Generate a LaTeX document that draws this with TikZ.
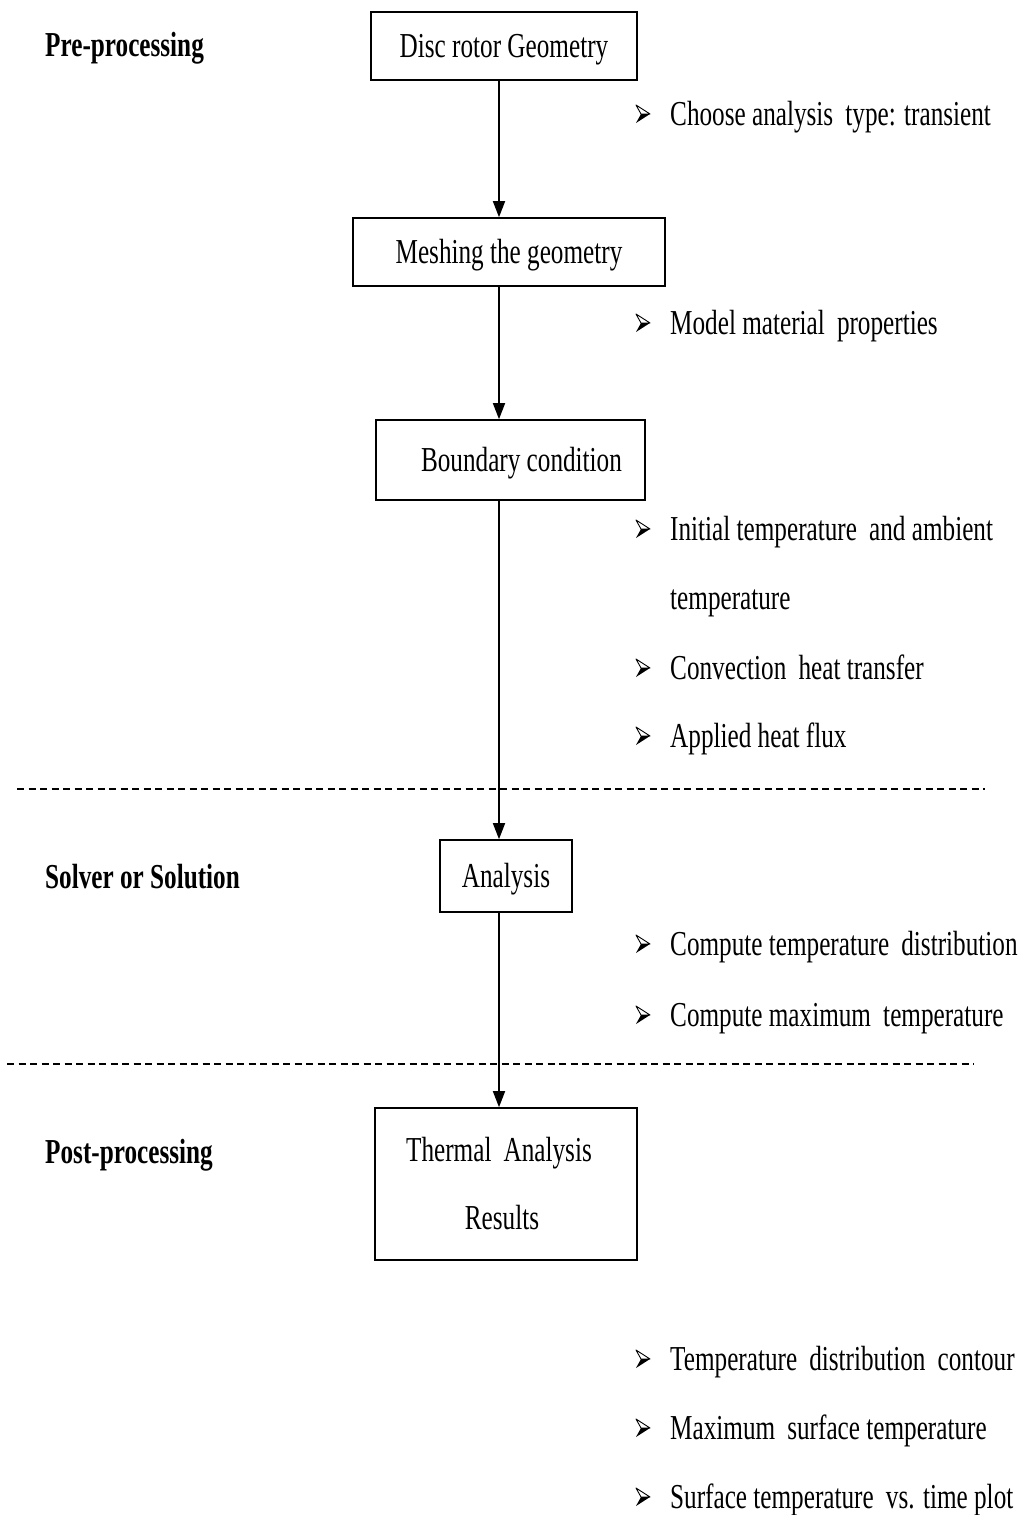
\documentclass[tikz,border=0pt]{standalone}
\usepackage{fontspec}
\setmainfont{Liberation Serif}[FakeStretch=0.72]
\usetikzlibrary{arrows.meta}
\begin{document}
\begin{tikzpicture}[x=1pt,y=-1pt,
  frame/.style={draw, line width=1.6pt, inner sep=0pt},
  box/.style={frame, font=\fontsize{35}{42}\selectfont, text height=22pt, text depth=0pt},
  txt/.style={anchor=base west, inner sep=0pt, font=\fontsize{35}{42}\selectfont},
  head/.style={anchor=base west, inner sep=0pt, font=\bfseries\fontsize{35}{42}\selectfont},
  bulmark/.pic={
    \fill (7,0) -- (-7,9) -- (-2,0) -- cycle;
    \draw[line width=0.9pt, line join=round] (-7,-9) -- (7,0) -- (-2,0) -- cycle;
  },
  arr/.style={line width=1.6pt, -{Triangle[length=16pt,width=12pt]}},
  sep/.style={line width=1.4pt, dash pattern=on 7pt off 4.5pt}]
\fill[white] (0,0) rectangle (1022,1515);
\useasboundingbox (0,0) rectangle (1022,1515);
\coordinate (ax) at (499,0);

% Pre-processing
\node[head] (hpre) at (45,56) {Pre-processing};
\node[box, minimum width=266pt, minimum height=68pt] (b1) at (504,46) {Disc rotor Geometry};
\pic (k1) at (643,114) {bulmark};
\node[txt] (t1) at (670,125) {Choose analysis\, type: transient};
\node[box, minimum width=312pt, minimum height=68pt] (b2) at (509,252) {Meshing the geometry};
\pic (k2) at (643,323) {bulmark};
\node[txt] (t2) at (670,334) {Model material\, properties};
\node[box, minimum width=269pt, minimum height=80pt] (b3) at (510.5,460) {\hspace*{22pt}Boundary condition};
\pic (k3) at (643,529) {bulmark};
\node[txt] (t3) at (670,540) {Initial temperature\, and ambient};
\node[txt] (t3b) at (670,609) {temperature};
\pic (k4) at (643,668) {bulmark};
\node[txt] (t4) at (670,679) {Convection\, heat transfer};
\pic (k5) at (643,736) {bulmark};
\node[txt] (t5) at (670,747) {Applied heat flux};

\coordinate (d1a) at (17,789);
\coordinate (d1b) at (985,789);
\draw[sep] (d1a) -- (d1b);

% Solver
\node[head] (hsol) at (45,888) {Solver or Solution};
\node[box, minimum width=132pt, minimum height=72pt] (b4) at (506,876) {Analysis};
\pic (k6) at (643,944) {bulmark};
\node[txt] (t6) at (670,955) {Compute temperature\, distribution};
\pic (k7) at (643,1015) {bulmark};
\node[txt] (t7) at (670,1026) {Compute maximum\, temperature};

\coordinate (d2a) at (7,1064);
\coordinate (d2b) at (974,1064);
\draw[sep] (d2a) -- (d2b);

% Post-processing
\node[head] (hpost) at (45,1163) {Post-processing};
\node[frame, align=center, font=\fontsize{35}{68}\selectfont, minimum width=262pt, minimum height=152pt] (b5) at (506,1184) {Thermal\, Analysis\hspace*{14pt}\\Results\hspace*{8pt}};
\pic (k8) at (643,1359) {bulmark};
\node[txt] (t8) at (670,1370) {Temperature\, distribution\, contour};
\pic (k9) at (643,1428) {bulmark};
\node[txt] (t9) at (670,1439) {Maximum\, surface temperature};
\pic (k10) at (643,1497) {bulmark};
\node[txt] (t10) at (670,1508) {Surface temperature\, vs. time plot};

% arrows
\draw[arr] (b1.south -| ax) -- (b2.north -| ax);
\draw[arr] (b2.south -| ax) -- (b3.north -| ax);
\draw[arr] (b3.south -| ax) -- (b4.north -| ax);
\draw[arr] (b4.south -| ax) -- (b5.north -| ax);
\end{tikzpicture}
\end{document}
